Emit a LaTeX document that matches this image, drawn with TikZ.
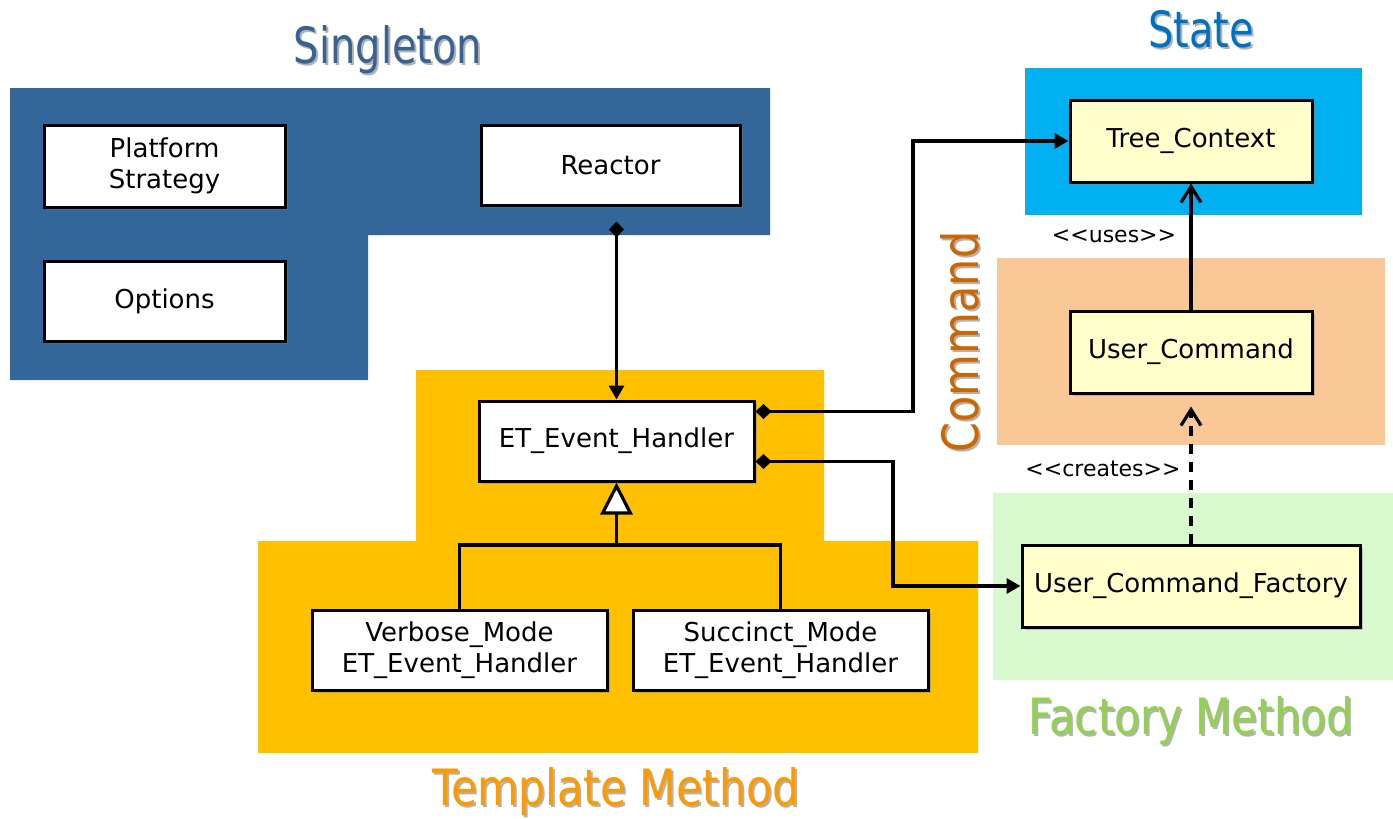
\documentclass[tikz,border=0pt]{standalone}
\usepackage{fontspec}
\usepackage{graphicx}
\setmainfont{DejaVu Sans}
\usetikzlibrary{arrows.meta,shadows}

% region and title colours
\definecolor{singletonbg}{RGB}{51,102,153}
\definecolor{singletonfg}{RGB}{54,98,150}
\definecolor{templatebg}{RGB}{255,192,0}
\definecolor{templatefg}{RGB}{255,153,0}
\definecolor{statebg}{RGB}{0,176,240}
\definecolor{statefg}{RGB}{0,112,192}
\definecolor{commandbg}{RGB}{250,200,150}
\definecolor{commandfg}{RGB}{204,102,0}
\definecolor{factorybg}{RGB}{216,249,206}
\definecolor{factoryfg}{RGB}{146,208,80}
\definecolor{classfill}{RGB}{255,255,204}

\newcommand\titlefont{\fontsize{25pt}{30pt}\selectfont}
\newcommand\narrow[2][0.8]{\scalebox{#1}[1]{#2}}

\tikzset{
  diam/.tip={Diamond[length=8pt,width=7.5pt]},
  solidtip/.tip={Triangle[length=7pt,width=7.5pt]},
  barb/.tip={Straight Barb[length=8pt,width=10pt]},
  gentip/.tip={Triangle[open, fill=white, length=16pt, width=16pt]},
}

\begin{document}
\begin{tikzpicture}[x=0.5pt,y=-0.5pt,
  classbox/.style={draw=black, line width=1.5pt, fill=white, align=center,
    inner sep=0pt, font=\fontsize{13pt}{15.5pt}\selectfont,
    drop shadow={shadow xshift=1.5pt, shadow yshift=-1.5pt, opacity=0.4}},
  ctxbox/.style={classbox, fill=classfill},
  title/.style={anchor=base, inner sep=0pt, font=\titlefont},
  tshade/.style={title, text=black, opacity=0.3},
  lbl/.style={inner sep=0pt, font=\fontsize{11pt}{13pt}\selectfont},
  conn/.style={draw=black, line width=1.6pt},
]
\useasboundingbox (0,0) rectangle (1393,819);

% ---- pattern regions ----
\fill[singletonbg] (10,88) -- (770,88) -- (770,235) -- (368,235) -- (368,380) -- (10,380) -- cycle;
\fill[templatebg] (416,370) -- (824,370) -- (824,541) -- (978,541) -- (978,753)
                  -- (258,753) -- (258,541) -- (416,541) -- cycle;
\fill[statebg] (1025,68) rectangle (1362,215);
\fill[commandbg] (997,258) rectangle (1385,445);
\fill[factorybg] (993,493) rectangle (1393,680);

% ---- pattern titles (shadow copy first) ----
\node[tshade] at (390,65) {\narrow{Singleton}};
\node[title, text=singletonfg] (tSingleton) at (388,63) {\narrow{Singleton}};
\node[tshade] at (1203,49) {\narrow{State}};
\node[title, text=statefg] (tState) at (1201,47) {\narrow{State}};
\node[tshade, rotate=90] at (980,344) {\narrow[0.86]{Command}};
\node[title, text=commandfg, rotate=90] (tCommand) at (978,342) {\narrow[0.86]{Command}};
\node[tshade] at (1193,736) {\narrow[0.84]{Factory Method}};
\node[title, text=factoryfg] (tFactory) at (1191,734) {\narrow[0.84]{Factory Method}};
\node[tshade] at (618,807) {\narrow[0.85]{Template Method}};
\node[title, text=templatefg] (tTemplate) at (616,805) {\narrow[0.85]{Template Method}};

% ---- classes ----
\node[classbox, minimum width=120.5pt, minimum height=41pt] (Platform) at (164.5,166) {Platform\\Strategy};
\node[classbox, minimum width=120.5pt, minimum height=40pt] (Options) at (164.5,301) {Options};
\node[classbox, minimum width=129.5pt, minimum height=40pt] (Reactor) at (610.5,165) {Reactor};
\node[classbox, minimum width=137.5pt, minimum height=40pt] (ET) at (616.5,441) {ET\_Event\_Handler};
\node[classbox, minimum width=147.5pt, minimum height=40pt] (Verbose) at (459.5,650) {Verbose\_Mode\\ET\_Event\_Handler};
\node[classbox, minimum width=147.5pt, minimum height=40pt] (Succinct) at (780.5,650) {Succinct\_Mode\\ET\_Event\_Handler};
\node[ctxbox, minimum width=121pt, minimum height=41pt] (Tree) at (1191,141) {Tree\_Context};
\node[ctxbox, minimum width=121pt, minimum height=41pt] (UserCmd) at (1191,352) {User\_Command};
\node[ctxbox, minimum width=169pt, minimum height=41pt] (Factory) at (1191,586) {User\_Command\_Factory};

% ---- stereotype labels ----
\node[lbl] (uses) at (1114,236) {<\kern0pt<uses>\kern0pt>};
\node[lbl] (creates) at (1103,469) {<\kern0pt<creates>\kern0pt>};

% ---- connectors ----
\coordinate (rtop) at (ET.north |- Reactor.south);
\draw[conn, diam-solidtip] ([yshift=-7.5pt]rtop) -- (ET.north);

\coordinate (e1) at ([yshift=-6pt]ET.north east);
\coordinate (e2) at ([yshift=10.5pt]ET.south east);
\coordinate (jogA) at (913,300);
\coordinate (jogB) at (893,500);
\draw[conn, diam-solidtip] (e1) -- (e1 -| jogA) -- (jogA |- Tree.west) -- (Tree.west);
\draw[conn, diam-solidtip] (e2) -- (e2 -| jogB) -- (jogB |- Factory.west) -- (Factory.west);

% inheritance
\coordinate (bus) at (616.5,545);
\draw[conn] (Verbose.north) |- (bus) -| (Succinct.north);
\draw[conn, -gentip] (bus) -- (ET.south);

% uses / creates
\draw[conn, -barb] (UserCmd.north) -- (Tree.south);
\draw[conn, dash pattern=on 5pt off 4pt, -barb, shorten >=6pt] (Factory.north) -- (UserCmd.south);
\end{tikzpicture}
\end{document}
